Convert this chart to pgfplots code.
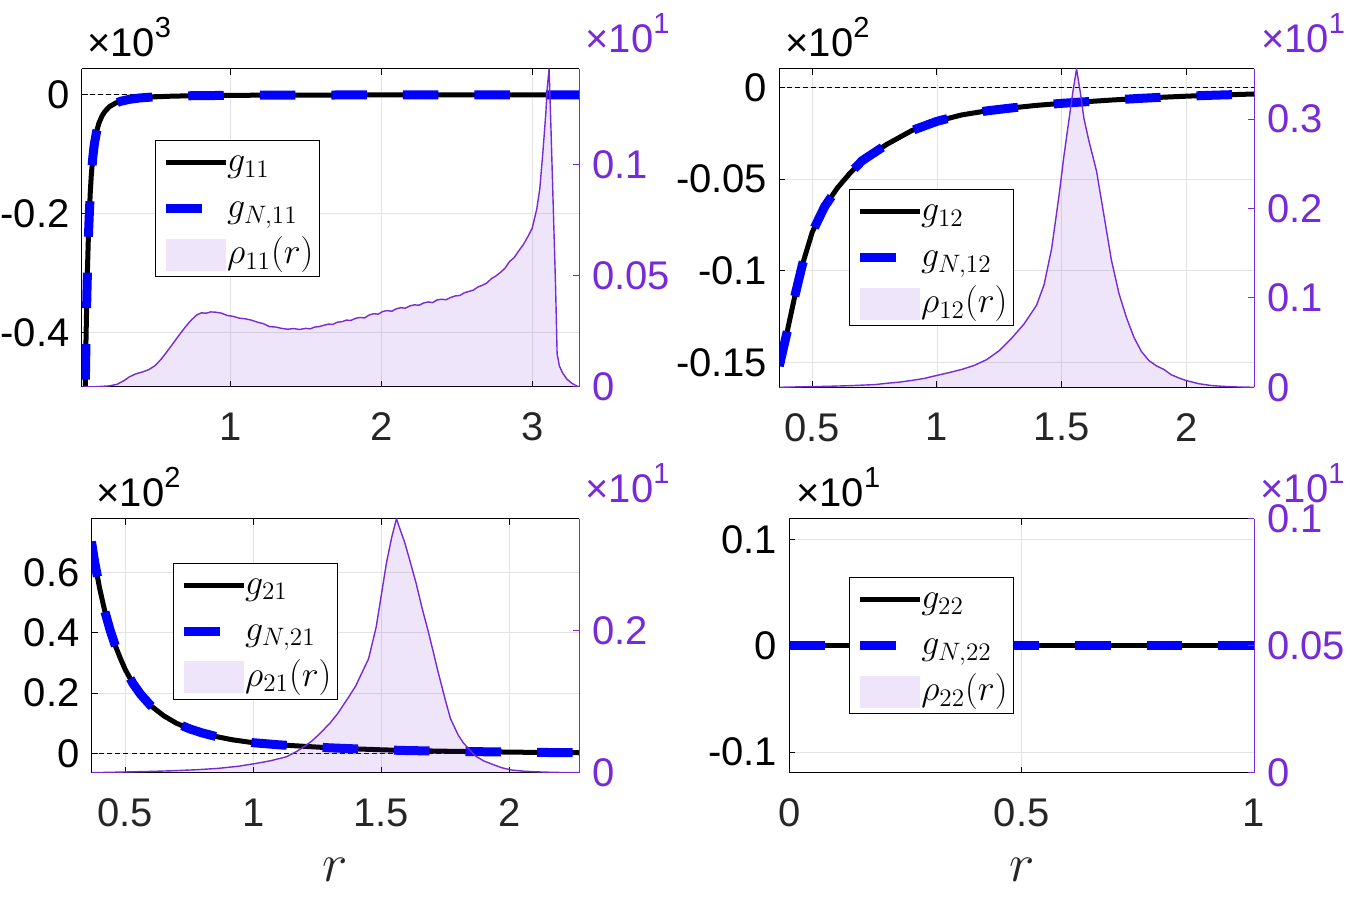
\documentclass[border=0pt]{standalone}
\usepackage{fix-cm}
\usepackage[no-math]{fontspec}
\setmainfont{Liberation Sans}
\usepackage{pgfplots}
\usepackage{pgfplotstable}
\pgfplotsset{compat=1.18}
\definecolor{pcol}{RGB}{118,42,216}
\definecolor{tickgray}{RGB}{38,38,38}
\definecolor{gblue}{RGB}{0,0,255}

\newcommand{\tenexp}[1]{\fontsize{20}{22}\selectfont ×10\raisebox{9.5pt}{\fontsize{14.5}{15}\selectfont #1}}

\pgfplotstableread{
r g
0.035 -0.60
0.040 -0.49
0.045 -0.41
0.050 -0.345
0.055 -0.29
0.060 -0.245
0.066 -0.205
0.073 -0.165
0.080 -0.135
0.090 -0.105
0.100 -0.083
0.115 -0.062
0.13 -0.048
0.15 -0.036
0.17 -0.028
0.20 -0.020
0.24 -0.0140
0.28 -0.0105
0.33 -0.0077
0.40 -0.0053
0.50 -0.0034
0.60 -0.0024
0.75 -0.0015
1.00 -0.0009
1.30 -0.0005
1.70 -0.0003
2.20 -0.0002
2.80 -0.0001
3.31 -0.0001
}\gOne

\pgfplotstableread{
r p
0.015 0
0.10 0.0001
0.20 0.0005
0.25 0.0012
0.30 0.0030
0.33 0.0045
0.37 0.0058
0.42 0.0068
0.46 0.0078
0.50 0.0095
0.54 0.0123
0.58 0.0158
0.62 0.0195
0.66 0.0232
0.70 0.0268
0.74 0.0300
0.78 0.0325
0.81 0.0334
0.84 0.0332
0.87 0.0338
0.90 0.0337
0.94 0.0333
0.98 0.0322
1.02 0.0318
1.06 0.0310
1.10 0.0307
1.14 0.0301
1.18 0.0292
1.22 0.0285
1.26 0.0272
1.30 0.0270
1.34 0.0264
1.38 0.0260
1.42 0.0263
1.46 0.0259
1.50 0.0264
1.53 0.0262
1.56 0.0270
1.59 0.0272
1.62 0.0278
1.65 0.0283
1.68 0.0282
1.71 0.0292
1.74 0.0294
1.77 0.0301
1.80 0.0300
1.83 0.0309
1.86 0.0313
1.89 0.0311
1.92 0.0324
1.95 0.0330
1.98 0.0328
2.01 0.0340
2.04 0.0344
2.07 0.0341
2.10 0.0352
2.13 0.0357
2.16 0.0355
2.19 0.0365
2.22 0.0370
2.25 0.0368
2.28 0.0378
2.31 0.0383
2.34 0.0380
2.37 0.0392
2.40 0.0395
2.43 0.0393
2.46 0.0403
2.49 0.0410
2.52 0.0412
2.55 0.0424
2.58 0.0430
2.61 0.0436
2.64 0.0450
2.67 0.0458
2.70 0.0468
2.73 0.0488
2.76 0.0500
2.79 0.0516
2.82 0.0535
2.85 0.0565
2.88 0.0582
2.91 0.0612
2.94 0.0640
2.97 0.0675
3.00 0.0715
3.03 0.0800
3.05 0.0890
3.07 0.1050
3.09 0.1230
3.10 0.1350
3.112 0.1433
3.125 0.1150
3.14 0.0800
3.155 0.0450
3.165 0.0150
3.18 0.0095
3.20 0.0065
3.23 0.0035
3.26 0.0018
3.29 0.0006
3.31 0.0001
}\rOne

\pgfplotstableread{
r g
0.368 -0.152
0.40 -0.133
0.43 -0.114
0.46 -0.097
0.50 -0.079
0.55 -0.065
0.60 -0.055
0.65 -0.047
0.70 -0.040
0.75 -0.0355
0.80 -0.031
0.90 -0.0235
1.00 -0.0185
1.10 -0.0150
1.20 -0.0128
1.30 -0.0112
1.40 -0.0098
1.50 -0.0087
1.60 -0.0078
1.70 -0.0069
1.80 -0.0061
1.90 -0.0054
2.00 -0.0048
2.10 -0.0043
2.20 -0.0039
2.272 -0.0036
}\gTwo

\pgfplotstableread{
r p
0.368 0
0.45 0.0005
0.55 0.0010
0.65 0.0018
0.75 0.0030
0.80 0.0045
0.85 0.0058
0.90 0.0077
0.95 0.0100
1.00 0.0133
1.05 0.0165
1.10 0.0200
1.15 0.0245
1.20 0.0310
1.25 0.0410
1.30 0.0550
1.35 0.0710
1.40 0.0920
1.43 0.1150
1.46 0.1550
1.49 0.2150
1.51 0.2600
1.53 0.3000
1.545 0.3300
1.56 0.3560
1.575 0.3300
1.59 0.3000
1.61 0.2750
1.64 0.2420
1.67 0.1920
1.70 0.1420
1.73 0.1050
1.76 0.0780
1.79 0.0560
1.82 0.0400
1.85 0.0300
1.88 0.0240
1.91 0.0200
1.94 0.0140
1.97 0.0105
2.00 0.0075
2.05 0.0040
2.10 0.0020
2.15 0.0010
2.20 0.0004
2.272 0
}\rTwo

\pgfplotstableread{
r g
0.368 0.703
0.38 0.637
0.40 0.547
0.42 0.472
0.44 0.411
0.46 0.360
0.48 0.317
0.50 0.278
0.53 0.232
0.56 0.196
0.60 0.158
0.65 0.125
0.70 0.100
0.75 0.082
0.80 0.068
0.86 0.055
0.92 0.045
1.00 0.0355
1.10 0.0285
1.20 0.0235
1.30 0.0185
1.40 0.0150
1.50 0.0120
1.60 0.0095
1.70 0.0080
1.80 0.0066
1.90 0.0055
2.00 0.0044
2.10 0.0034
2.20 0.0027
2.272 0.0022
}\gThree

\pgfplotstableread{
r p
0.368 0
0.50 0.0010
0.60 0.0018
0.69 0.0028
0.78 0.0042
0.86 0.0060
0.94 0.0090
1.01 0.0130
1.07 0.0170
1.13 0.0225
1.17 0.0300
1.20 0.0370
1.23 0.0450
1.26 0.0550
1.30 0.0700
1.33 0.0834
1.37 0.1050
1.40 0.1220
1.43 0.1450
1.45 0.1600
1.48 0.2050
1.50 0.2500
1.52 0.2950
1.54 0.3300
1.559 0.3570
1.575 0.3400
1.59 0.3250
1.61 0.3000
1.636 0.2660
1.66 0.2300
1.68 0.2030
1.70 0.1740
1.72 0.1440
1.75 0.1020
1.77 0.0760
1.80 0.0530
1.82 0.0420
1.85 0.0300
1.87 0.0230
1.90 0.0165
1.94 0.0110
1.97 0.0070
2.01 0.0037
2.06 0.0020
2.13 0.0009
2.20 0.0003
2.272 0
}\rThree

\pgfplotstableread{
r g
0 0
0.25 0
0.5 0
0.75 0
1 0
}\gFour

\pgfplotsset{
  leftax/.style={scale only axis, anchor=south west,
    axis x line*=box, axis y line*=left, xtick pos=both, ytick pos=left,
    tick align=inside, major tick length=3pt,
    grid=major, grid style={gray!22, line width=0.4pt},
    axis line style={black, line width=0.5pt, -},
    tick style={black, line width=0.5pt},
    ticklabel style={font=\fontsize{20}{22}\selectfont},
    xticklabel style={tickgray, yshift=-9.5pt},
    yticklabel style={black, xshift=-2.5pt}},
  rightax/.style={scale only axis, anchor=south west,
    axis y line*=right, axis x line=none, xtick=\empty, ytick pos=right,
    tick align=inside, major tick length=3pt,
    axis line style={pcol, line width=0.5pt, -},
    ytick style={pcol, line width=0.5pt},
    yticklabel style={pcol, font=\fontsize{20}{22}\selectfont, xshift=3pt},
    legend cell align=left,
    legend style={anchor=north west, draw=black, line width=0.5pt, fill=white,
      inner xsep=3pt, inner ysep=2pt, row sep=5pt,
      font=\fontsize{18}{20}\selectfont,
      nodes={inner sep=0pt, text height=13.5pt, text depth=4.5pt},
      /tikz/every odd column/.append style={column sep=-0.5pt}}},
  gline/.style={black, line width=2.5pt, no markers},
  gnline/.style={gblue, line width=4.5pt, dash pattern=on 17.75pt off 18pt, no markers},
  zeroline/.style={black, line width=0.4pt, dash pattern=on 2.5pt off 1.5pt, no markers},
  areafill/.style={draw=none, fill=pcol, fill opacity=0.12, forget plot},
  arealine/.style={pcol, line width=0.7pt, no markers, forget plot},
  limg/.style={legend image code/.code={\draw[black, line width=2.6pt] (0pt,0pt) -- (30pt,0pt);}},
  bimg/.style={legend image code/.code={\draw[gblue, line width=4.5pt] (0pt,0pt) -- (18.3pt,0pt); \path[draw=none] (0pt,0pt) -- (30pt,0pt);}},
  aimg/.style={legend image code/.code={\path[draw=none, fill=pcol, fill opacity=0.12] (0pt,-8pt) rectangle (30pt,8pt);}},
  xlab/.style={xlabel={$r$}, xlabel style={font=\fontsize{27}{30}\selectfont, tickgray, at={(axis description cs:0.5,-0.383)}, anchor=center, inner sep=0pt}}
}

\begin{document}
\begin{tikzpicture}
\useasboundingbox (0,0) rectangle (675pt,450pt);

% ---------------- Panel 1 ----------------
\begin{axis}[leftax, at={(40.75pt,256.5pt)}, width=248.75pt, height=159.15pt,
  xmin=0.015, xmax=3.31, ymin=-0.492, ymax=0.044,
  xtick={1,2,3}, xticklabels={1,2,3},
  ytick={-0.4,-0.2,0}, yticklabels={-0.4,-0.2,0}]
\addplot[zeroline] coordinates {(0.015,0) (3.31,0)};
\addplot[gline] table[x=r,y=g] {\gOne};
\addplot[gnline] table[x=r,y=g] {\gOne};
\end{axis}
\begin{axis}[rightax, at={(40.75pt,256.5pt)}, width=248.75pt, height=159.15pt,
  xmin=0.015, xmax=3.31, ymin=0, ymax=0.1433,
  ytick={0,0.05,0.1}, yticklabels={0,0.05,0.1},
  legend style={at={(axis description cs:0.147,0.775)}}]
\addlegendimage{limg}\addlegendentry{$g_{11}$}
\addlegendimage{bimg}\addlegendentry{$g_{N,11}$}
\addlegendimage{aimg}\addlegendentry{$\rho_{11}(r)$}
\addplot[areafill] table[x=r,y=p] {\rOne} \closedcycle;
\addplot[arealine] table[x=r,y=p] {\rOne};
\end{axis}

% ---------------- Panel 2 ----------------
\begin{axis}[leftax, at={(389.65pt,256.35pt)}, width=237.4pt, height=159.3pt,
  xmin=0.368, xmax=2.272, ymin=-0.1636, ymax=0.0102,
  xtick={0.5,1,1.5,2}, xticklabels={0.5,1,1.5,2},
  ytick={-0.15,-0.1,-0.05,0}, yticklabels={-0.15,-0.1,-0.05,0}]
\addplot[zeroline] coordinates {(0.368,0) (2.272,0)};
\addplot[gline] table[x=r,y=g] {\gTwo};
\addplot[gnline] table[x=r,y=g] {\gTwo};
\end{axis}
\begin{axis}[rightax, at={(389.65pt,256.35pt)}, width=237.4pt, height=159.3pt,
  xmin=0.368, xmax=2.272, ymin=0, ymax=0.3563,
  ytick={0,0.1,0.2,0.3}, yticklabels={0,0.1,0.2,0.3},
  legend style={at={(axis description cs:0.146,0.6215)}}]
\addlegendimage{limg}\addlegendentry{$g_{12}$}
\addlegendimage{bimg}\addlegendentry{$g_{N,12}$}
\addlegendimage{aimg}\addlegendentry{$\rho_{12}(r)$}
\addplot[areafill] table[x=r,y=p] {\rTwo} \closedcycle;
\addplot[arealine] table[x=r,y=p] {\rTwo};
\end{axis}

% ---------------- Panel 3 ----------------
\begin{axis}[leftax, xlab, at={(45.75pt,63.65pt)}, width=243.75pt, height=127pt,
  xmin=0.368, xmax=2.272, ymin=-0.064, ymax=0.779,
  xtick={0.5,1,1.5,2}, xticklabels={0.5,1,1.5,2},
  ytick={0,0.2,0.4,0.6}, yticklabels={0,0.2,0.4,0.6}]
\addplot[zeroline] coordinates {(0.368,0) (2.272,0)};
\addplot[gline] table[x=r,y=g] {\gThree};
\addplot[gnline] table[x=r,y=g] {\gThree};
\end{axis}
\begin{axis}[rightax, at={(45.75pt,63.65pt)}, width=243.75pt, height=127pt,
  xmin=0.368, xmax=2.272, ymin=0, ymax=0.357,
  ytick={0,0.2}, yticklabels={0,0.2},
  legend style={at={(axis description cs:0.1664,0.827)}}]
\addlegendimage{limg}\addlegendentry{$g_{21}$}
\addlegendimage{bimg}\addlegendentry{$g_{N,21}$}
\addlegendimage{aimg}\addlegendentry{$\rho_{21}(r)$}
\addplot[areafill] table[x=r,y=p] {\rThree} \closedcycle;
\addplot[arealine] table[x=r,y=p] {\rThree};
\end{axis}

% ---------------- Panel 4 ----------------
\begin{axis}[leftax, xlab, at={(394.65pt,63.65pt)}, width=232.4pt, height=127pt,
  xmin=0, xmax=1, ymin=-0.1194, ymax=0.1194,
  xtick={0,0.5,1}, xticklabels={0,0.5,1},
  ytick={-0.1,0,0.1}, yticklabels={-0.1,0,0.1}]
\addplot[zeroline] coordinates {(0,0) (1,0)};
\addplot[gline] table[x=r,y=g] {\gFour};
\addplot[gnline] table[x=r,y=g] {\gFour};
\end{axis}
\begin{axis}[rightax, at={(394.65pt,63.65pt)}, width=232.4pt, height=127pt,
  xmin=0, xmax=1, ymin=0, ymax=0.1,
  ytick={0,0.05,0.1}, yticklabels={0,0.05,0.1},
  legend style={at={(axis description cs:0.1278,0.769)}}]
\addlegendimage{limg}\addlegendentry{$g_{22}$}
\addlegendimage{bimg}\addlegendentry{$g_{N,22}$}
\addlegendimage{aimg}\addlegendentry{$\rho_{22}(r)$}
\addplot[draw=none, forget plot] coordinates {(0,0) (1,0)};
\end{axis}

% ---------------- exponent labels ----------------
\node[anchor=base west, inner sep=0pt, black] at (43.35pt,421.5pt) {\tenexp{3}};
\node[anchor=base west, inner sep=0pt, pcol] at (292.5pt,423.5pt) {\tenexp{1}};
\node[anchor=base west, inner sep=0pt, black] at (392.5pt,421.5pt) {\tenexp{2}};
\node[anchor=base west, inner sep=0pt, pcol] at (630.3pt,423.5pt) {\tenexp{1}};
\node[anchor=base west, inner sep=0pt, black] at (48pt,196.5pt) {\tenexp{2}};
\node[anchor=base west, inner sep=0pt, pcol] at (292.5pt,198.5pt) {\tenexp{1}};
\node[anchor=base west, inner sep=0pt, black] at (397.9pt,196.5pt) {\tenexp{1}};
\node[anchor=base west, inner sep=0pt, pcol] at (630pt,198.5pt) {\tenexp{1}};
\end{tikzpicture}
\end{document}
